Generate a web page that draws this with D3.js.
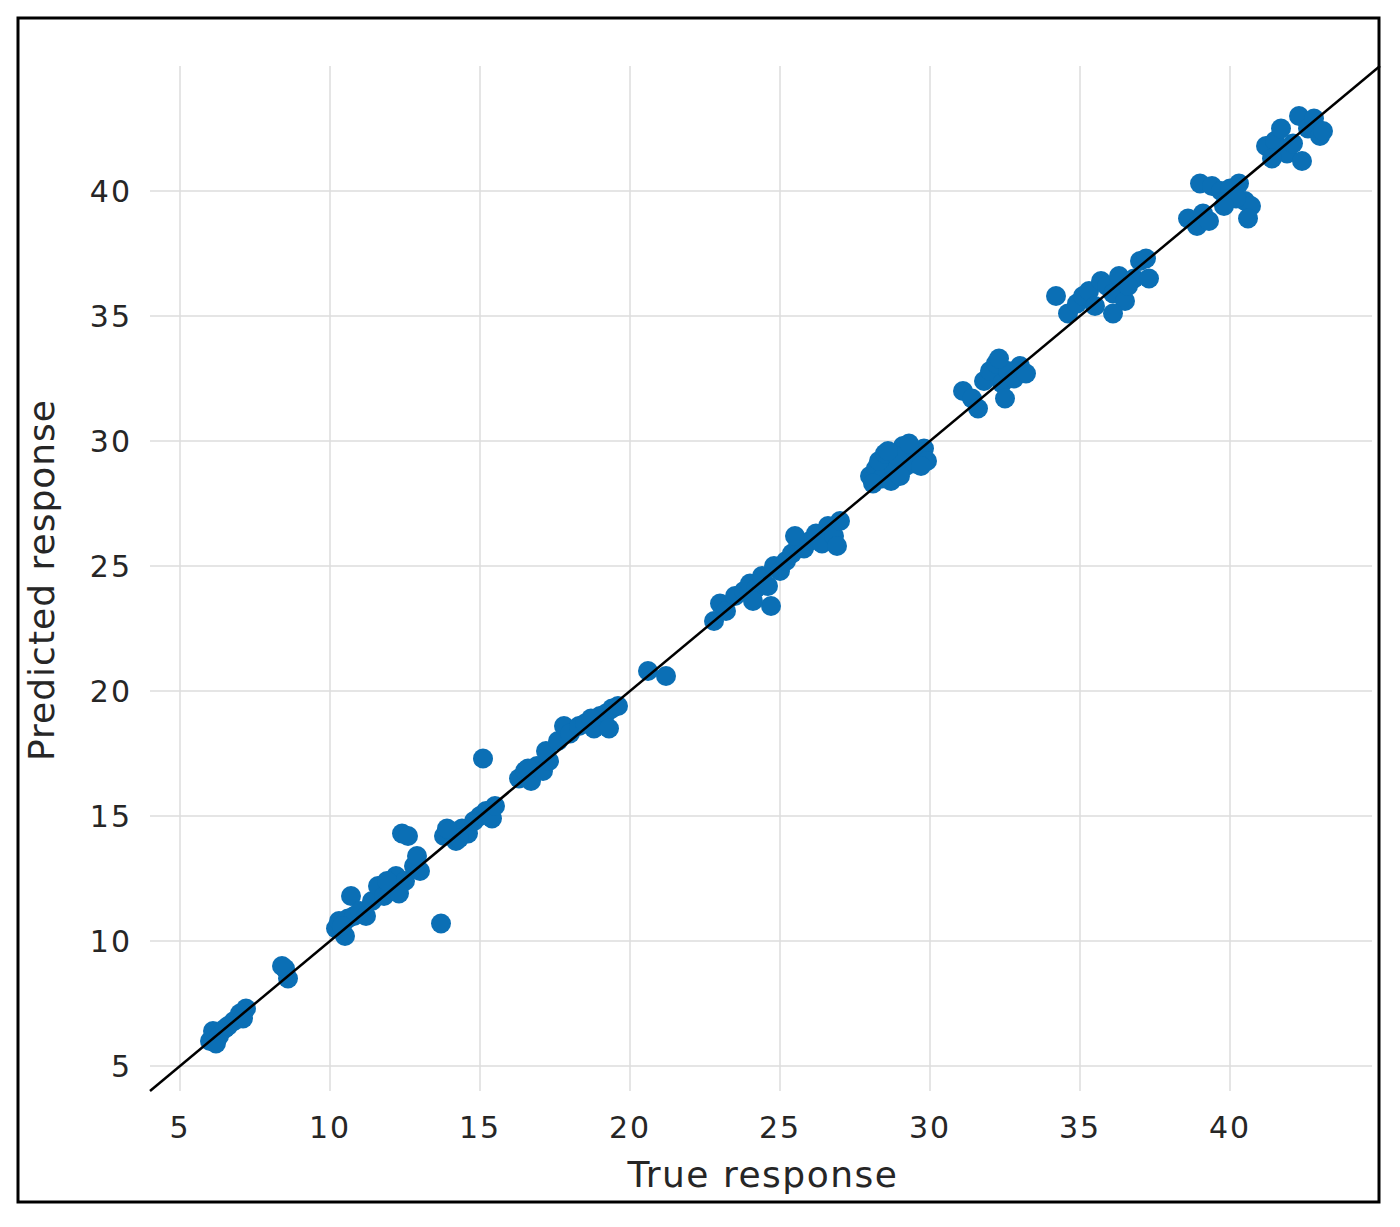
<!DOCTYPE html>
<html>
<head>
    <meta charset="UTF-8">
    <title>Predicted vs True response</title>
    <script src="https://d3js.org/d3.v7.min.js"></script>
    <style type="text/css">
        body { margin: 0; background: #fff; }
        text { font-family: "DejaVu Sans", sans-serif; fill: #262626; }
    </style>
</head>
<body>
    <script type="text/javascript">
        var trueResp = [
            6, 6.1, 6.3, 6.5, 6.8, 7, 7.2, 6.2, 6.6, 7.1,
            8.5, 8.6, 8.4,
            10.2, 10.3, 10.5, 10.6, 10.8, 10.7, 11, 11.2, 11.4, 11.6, 11.8, 12, 12.2, 12.4, 12.6, 12.5, 12.8, 13, 12.9, 12.3, 11.9, 10.4, 13.7,
            13.8, 14, 14.2, 14.4, 14.6, 14.8, 15, 15.2, 15.4, 15.1, 14.3, 13.9, 15.5,
            16.3, 16.5, 16.7, 16.9, 17.1, 17.3, 17.2, 16.6, 17.6, 17.8,
            18, 18.3, 18.5, 18.8, 19, 19.2, 19.4, 19.6, 19.3, 18.7,
            20.6, 21.2,
            22.8, 23, 23.2, 23.5, 23.8, 24, 24.2, 24.4, 24.6, 24.8, 25, 24.7, 25.2, 25.4, 25.6, 25.8, 26, 26.2, 26.4, 26.6, 26.8, 27, 26.9, 24.1, 25.5,
            28, 28.2, 28.4, 28.6, 28.8, 29, 29.2, 29.4, 29.6, 29.8, 28.3, 28.7, 29.1, 29.5, 28.5, 29.9, 28.1, 28.9, 29.3, 29.7, 28.6, 29.0,
            31.1, 31.4, 31.6, 31.8, 32, 32.2, 32.4, 32.6, 32.8, 33, 33.2, 32.5, 32.3,
            34.2, 34.6, 34.9, 35.1, 35.3, 35.5, 35.7, 35.9, 36.1, 36.3, 36.5, 36.1, 36.8, 37, 37.2, 37.3, 36.6,
            38.6, 38.9, 39.1, 39.3, 39, 39.4, 39.7, 40, 40.3, 40.5, 40.7, 40.6, 40.2, 39.8,
            41.2, 41.5, 41.7, 41.9, 42.1, 42.3, 42.6, 42.8, 43, 43.1, 42.4, 41.4
        ];
        var predResp = [
            6, 6.4, 6.2, 6.5, 6.8, 7.1, 7.3, 5.9, 6.6, 6.9,
            8.9, 8.5, 9.0,
            10.5, 10.8, 10.2, 10.9, 11.0, 11.8, 11.2, 11.0, 11.6, 12.2, 11.8, 12.1, 12.6, 14.3, 14.2, 12.4, 13, 12.8, 13.4, 11.9, 12.4, 10.6, 10.7,
            14.2, 14.4, 14.0, 14.5, 14.3, 14.8, 15, 15.2, 14.9, 17.3, 14.1, 14.5, 15.4,
            16.5, 16.8, 16.4, 17, 16.8, 17.2, 17.6, 16.9, 18, 18.6,
            18.3, 18.6, 18.7, 18.5, 19, 19.1, 19.3, 19.4, 18.5, 18.9,
            20.8, 20.6,
            22.8, 23.5, 23.2, 23.8, 24, 24.3, 24.1, 24.6, 24.2, 25, 24.8, 23.4, 25.2, 25.5, 26, 25.7, 26, 26.3, 25.9, 26.6, 26.2, 26.8, 25.8, 23.6, 26.2,
            28.6, 28.9, 28.5, 29.2, 28.8, 29.5, 29.0, 29.6, 29.4, 29.7, 29.2, 28.4, 29.8, 29.1, 29.5, 29.2, 28.3, 29.4, 29.9, 29.0, 29.6, 28.6,
            32, 31.7, 31.3, 32.4, 32.8, 33.1, 32.3, 32.8, 32.5, 33, 32.7, 31.7, 33.3,
            35.8, 35.1, 35.5, 35.8, 36, 35.4, 36.4, 36.2, 35.9, 36.6, 35.6, 35.1, 36.5, 37.2, 37.3, 36.5, 36.2,
            38.9, 38.6, 39.1, 38.8, 40.3, 40.2, 40, 40.1, 40.3, 39.6, 39.4, 38.9, 39.7, 39.4,
            41.8, 42, 42.5, 41.5, 41.9, 43, 42.5, 42.9, 42.2, 42.4, 41.2, 41.3
        ];
        var ticks = [5, 10, 15, 20, 25, 30, 35, 40];
        var domain = [4, 45];

        var svg = d3.select("body").append("svg")
            .attr("width", 1400).attr("height", 1227);

        // Outer frame
        svg.append("rect")
            .attr("x", 18).attr("y", 18).attr("width", 1361).attr("height", 1184)
            .attr("fill", "#fff").attr("stroke", "#000").attr("stroke-width", 3);

        var x = d3.scaleLinear().domain(domain).range([150, 1380]);
        var y = d3.scaleLinear().domain(domain).range([1091, 66]);

        // Grid
        svg.selectAll(".vgrid").data(ticks).enter().append("line")
            .attr("x1", function (d) { return x(d); }).attr("x2", function (d) { return x(d); })
            .attr("y1", y(45)).attr("y2", y(4))
            .attr("stroke", "#dcdcdc").attr("stroke-width", 1.5);
        svg.selectAll(".hgrid").data(ticks).enter().append("line")
            .attr("y1", function (d) { return y(d); }).attr("y2", function (d) { return y(d); })
            .attr("x1", x(4)).attr("x2", x(45) - 8)
            .attr("stroke", "#dcdcdc").attr("stroke-width", 1.5);

        // Tick labels
        svg.selectAll(".xt").data(ticks).enter().append("text")
            .attr("x", function (d) { return x(d); }).attr("y", 1138)
            .attr("text-anchor", "middle").style("font-size", "30px").style("letter-spacing", "2px")
            .text(function (d) { return d; });
        svg.selectAll(".yt").data(ticks).enter().append("text")
            .attr("x", 132).attr("y", function (d) { return y(d) + 11; })
            .attr("text-anchor", "end").style("font-size", "30px").style("letter-spacing", "2px")
            .text(function (d) { return d; });

        // Points
        svg.selectAll(".pt").data(trueResp).enter().append("circle")
            .attr("cx", function (d) { return x(d); })
            .attr("cy", function (d, i) { return y(predResp[i]); })
            .attr("r", 10)
            .attr("fill", "#0b6fb5");

        // Perfect prediction line
        svg.append("line")
            .attr("x1", x(4)).attr("y1", y(4)).attr("x2", x(45)).attr("y2", y(45))
            .attr("stroke", "#000").attr("stroke-width", 2.5);

        // Axis titles
        svg.append("text")
            .attr("x", 763).attr("y", 1187)
            .attr("text-anchor", "middle").style("font-size", "36px").style("letter-spacing", "1.5px")
            .text("True response");
        svg.append("text")
            .attr("transform", "translate(54,580) rotate(-90)")
            .attr("text-anchor", "middle").style("font-size", "36px").style("letter-spacing", "1px")
            .text("Predicted response");
    </script>
</body>
</html>
